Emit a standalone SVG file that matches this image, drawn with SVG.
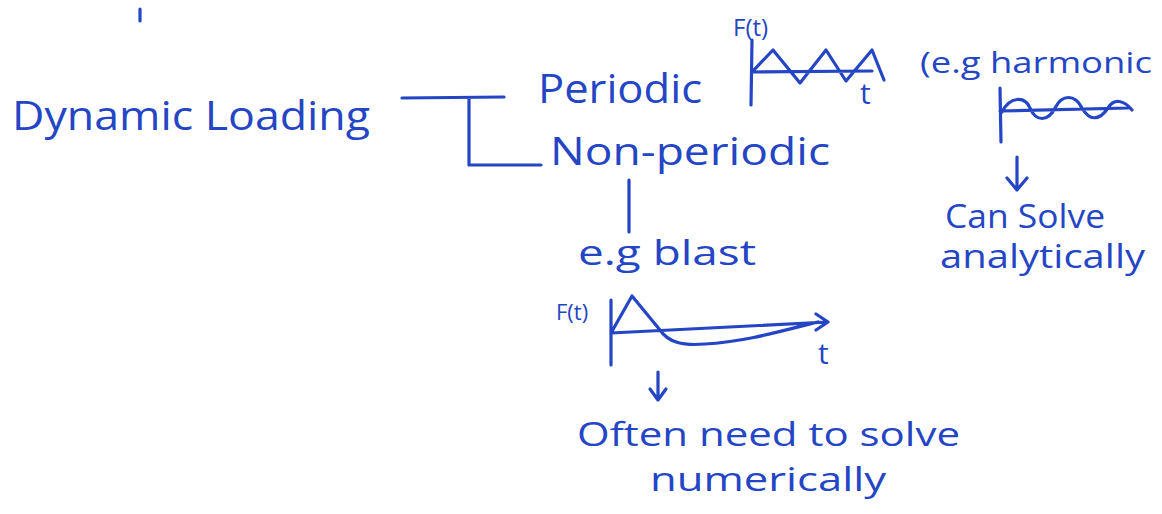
<svg xmlns="http://www.w3.org/2000/svg" width="1162" height="514" viewBox="0 0 1162 514">
<defs>
<style>
.ink{fill:none;stroke:#2446c4;stroke-width:3.2;stroke-linecap:round;stroke-linejoin:round}
.t{fill:#2446c4;font-family:"Open Sans","Liberation Sans",sans-serif}
</style>
</defs>
<rect width="1162" height="514" fill="#ffffff"/>
<path class="ink" d="M140 9 L140 21"/>
<g id="dynamic-loading"><text class="t" x="12" y="130" font-size="40" textLength="358" lengthAdjust="spacingAndGlyphs">Dynamic  Loading</text></g>
<g id="periodic">
<text class="t" x="538" y="103" font-size="40" textLength="164" lengthAdjust="spacingAndGlyphs">Periodic</text>
<text class="t" x="733" y="36" font-size="24">F(t)</text>
<path class="ink" d="M752 40 L751 105 M752 72 L872 71 M752 72 L773 50 L800 83 L826 50 L846 81 L872 50 L884 80"/>
<text class="t" x="860" y="104" font-size="30">t</text>
</g>
<g id="harmonic">
<text class="t" x="920" y="73" font-size="30" textLength="232" lengthAdjust="spacingAndGlyphs">(e.g harmonic</text>
<path class="ink" d="M1000 88 L1001 142 M1000 111 L1128 108 M1002 112 C1010 96 1025 96 1030 108 C1036 122 1048 122 1055 108 C1062 94 1075 94 1082 108 C1090 122 1100 120 1108 108 C1114 98 1124 100 1132 110"/>
<path class="ink" d="M1017 157 L1017 190 M1007 178 L1017 190 L1027 178"/>
<text class="t" x="945" y="228" font-size="32" textLength="160" lengthAdjust="spacingAndGlyphs">Can Solve</text>
<text class="t" x="940" y="268" font-size="32" textLength="205" lengthAdjust="spacingAndGlyphs">analytically</text>
</g>
<g id="non-periodic">
<text class="t" x="550" y="165" font-size="38" textLength="280" lengthAdjust="spacingAndGlyphs">Non-periodic</text>
<path class="ink" d="M629 180 L629 232"/>
<text class="t" x="578" y="265" font-size="34" textLength="178" lengthAdjust="spacingAndGlyphs">e.g  blast</text>
<text class="t" x="556" y="320" font-size="22">F(t)</text>
<path class="ink" d="M611 300 L611 365 M611 333 L828 322 M816 314 L828 322 L816 330 M611 333 L632 296 L660 330 C668 342 682 346 705 344 C745 342 785 330 818 322"/>
<text class="t" x="818" y="364" font-size="30">t</text>
<path class="ink" d="M658 372 L658 400 M650 389 L658 400 L666 389"/>
<text class="t" x="577" y="446" font-size="33" textLength="383" lengthAdjust="spacingAndGlyphs">Often need to solve</text>
<text class="t" x="650" y="491" font-size="33" textLength="236" lengthAdjust="spacingAndGlyphs">numerically</text>
</g>
<g id="connectors">
<path class="ink" d="M402 98 L504 97 M469 98 L469 165 L541 165"/>
</g>
</svg>
